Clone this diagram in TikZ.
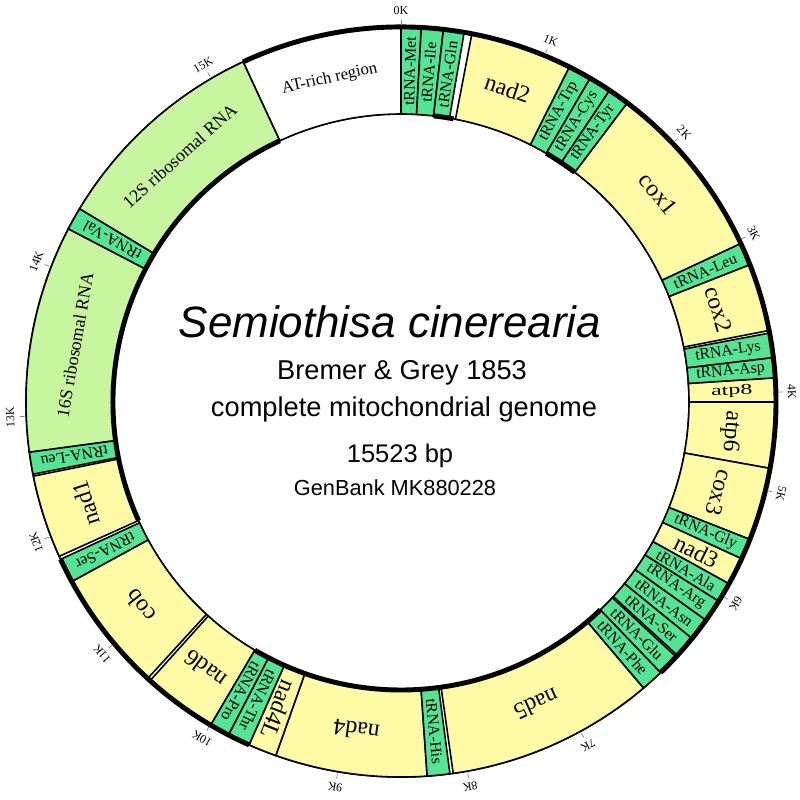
\documentclass[tikz,border=0pt]{standalone}
\usepackage{fontspec}
\setmainfont{Liberation Serif}
\setsansfont{Liberation Sans}
\usepackage{graphicx}
\usepackage{tikz}
\definecolor{GeneYellow}{RGB}{255,250,165}
\definecolor{TrnaGreen}{RGB}{85,228,148}
\definecolor{RrnaGreen}{RGB}{200,245,160}

\tikzset{
  genebox/.style={draw=black, line width=0.9pt, fill=#1},
  strandline/.style={line width=2.8pt},
  tickmark/.style={gray, line width=0.4pt},
  trnalabel/.style={font=\fontsize{9}{10}\selectfont, inner sep=0pt},
  pclabel/.style={font=\fontsize{13.5}{14}\selectfont, inner sep=0pt},
  rrnalabel/.style={font=\fontsize{10.2}{11}\selectfont, inner sep=0pt},
  ticklabel/.style={font=\fontsize{6.8}{7}\selectfont, inner sep=0pt},
}

% annular sector between two map angles (clockwise from the top)
\newcommand{\genesector}[3]{%
  \draw[genebox=#3] (90-#1:288) -- (90-#1:375)
    arc[start angle=90-#1, end angle=90-#2, radius=375]
    -- (90-#2:288)
    arc[start angle=90-#2, end angle=90-#1, radius=288] -- cycle;}

\begin{document}
\begin{tikzpicture}[x=0.02cm, y=0.02cm]
  \useasboundingbox (-401,-397) rectangle (399,402);

  % ring outline
  \draw[line width=0.9pt] (0,0) circle[radius=375];
  \draw[line width=0.9pt] (0,0) circle[radius=288];

  % control region
  \genesector{335.1}{360}{white}
  \node[rrnalabel, font=\fontsize{9.5}{10}\selectfont, rotate=12.45] (atrich) at (102.45:331) {AT-rich region};

  % rRNA genes
  \foreach \a/\b/\txt [count=\i] in {262.3/297.5/16S ribosomal RNA, 301.0/335.1/12S ribosomal RNA} {
    \genesector{\a}{\b}{RrnaGreen}
    \pgfmathsetmacro{\m}{(\a+\b)/2}
    \node[rrnalabel, rotate=-\m] (rrna\i) at (90-\m:331) {\txt};
  }

  % protein-coding genes
  \foreach \a/\b/\txt [count=\i] in {10.9/26.7/nad2, 37.1/65.0/cox1, 68.5/79.0/cox2,
      90.0/100.2/atp6, 100.2/111.5/cox3, 139.7/172.0/nad5, 176.0/199.5/nad4,
      210.5/222.0/nad6, 222.5/241.4/cob, 245.7/258.6/nad1} {
    \genesector{\a}{\b}{GeneYellow}
    \pgfmathsetmacro{\m}{(\a+\b)/2}
    \node[pclabel, rotate=-\m] (pc\i) at (90-\m:331) {\txt};
  }
  % short ones, written radially
  \foreach \a/\b/\txt [count=\i] in {114.7/119.0/nad3, 199.5/203.9/nad4L} {
    \genesector{\a}{\b}{GeneYellow}
    \pgfmathsetmacro{\m}{(\a+\b)/2}
    \node[pclabel, rotate=90-\m] (pcs\i) at (90-\m:331) {\txt};
  }
  \genesector{86.3}{90.0}{GeneYellow}
  \node[pclabel, font=\fontsize{8.5}{9}\selectfont, rotate=1.85] (atp8) at (1.85:331) {\scalebox{1.6}[1]{atp8}};

  % tRNA genes
  \foreach \a/\b/\txt [count=\i] in {0/3.1/Met, 3.1/6.5/Ile, 6.5/9.7/Gln,
      26.7/30.3/Trp, 30.3/33.8/Cys, 33.8/37.1/Tyr, 65.0/68.5/Leu,
      79.4/83.2/Lys, 83.2/86.3/Asp, 111.5/114.7/Gly, 119.0/122.1/Ala,
      122.1/125.6/Arg, 125.6/129.1/Asn, 129.1/132.5/Ser, 132.8/136.2/Glu,
      136.2/139.7/Phe, 172.5/176.0/His, 203.9/207.4/Thr, 207.4/210.5/Pro,
      241.4/245.2/Ser, 258.9/262.3/Leu, 297.5/301.0/Val} {
    \genesector{\a}{\b}{TrnaGreen}
    \pgfmathsetmacro{\m}{(\a+\b)/2}
    \node[trnalabel, rotate=90-\m] (trna\i) at (90-\m:331) {tRNA-\txt};
  }

  % strand marks: outer edge
  \draw[strandline] (90-335.1:375) arc[start angle=90-335.1, end angle=90-496.2, radius=375];
  \draw[strandline] (90-203.9:375) arc[start angle=90-203.9, end angle=90-245.2, radius=375];
  % strand marks: inner edge
  \foreach \a/\b in {6.5/10.5, 30.3/37.1, 136.2/210.5, 245.7/335.1}
    \draw[strandline] (90-\a:288) arc[start angle=90-\a, end angle=90-\b, radius=288];

  % scale
  \foreach \k/\p in {0/0, 1/22.5, 2/46.4, 3/64.4, 4/88.5, 5/103.6, 6/121.1, 7/151.4,
      8/169.8, 9/189.7, 10/210.6, 11/229.9, 12/249.0, 13/267.8, 14/291.1, 15/329.6} {
    \draw[tickmark] (90-\p:377) -- (90-\p:382);
    \node[ticklabel, rotate=-\p] (tick\k) at (90-\p:391) {\k K};
  }

  % title block
  \node[anchor=base, font=\sffamily\itshape\fontsize{25}{27}\selectfont] (species) at (-11,65) {Semiothisa cinerearia};
  \node[anchor=base, font=\sffamily\fontsize{15.5}{17}\selectfont] (author) at (1,23) {Bremer \& Grey 1853};
  \node[anchor=base, font=\sffamily\fontsize{15.5}{17}\selectfont] (kind) at (3,-14) {complete mitochondrial genome};
  \node[anchor=base, font=\sffamily\fontsize{14.5}{16}\selectfont] (size) at (-1,-60) {15523 bp};
  \node[anchor=base, font=\sffamily\fontsize{12.4}{14}\selectfont] (acc) at (-6,-93) {GenBank MK880228};
\end{tikzpicture}
\end{document}
